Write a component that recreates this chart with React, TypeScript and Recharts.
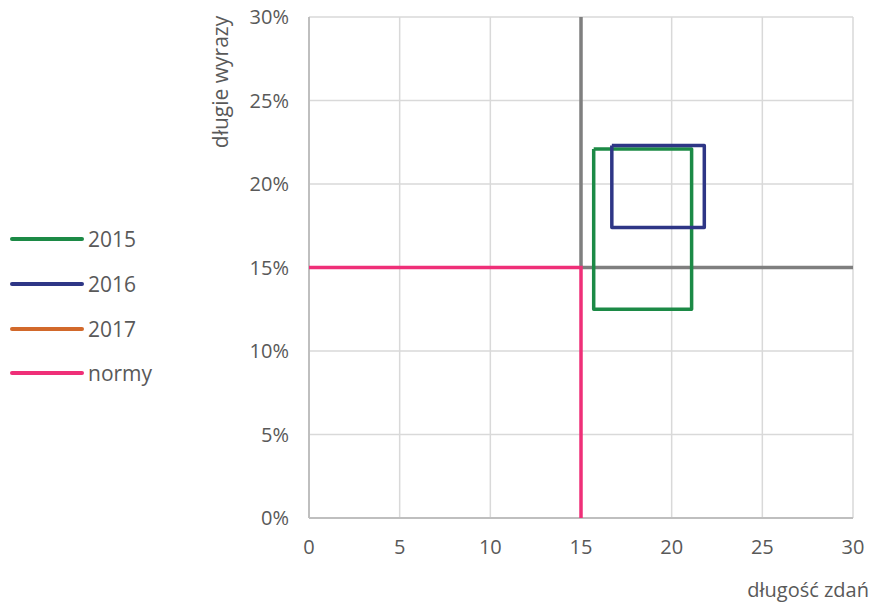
import { ScatterChart, Scatter, XAxis, YAxis, CartesianGrid, Label } from "recharts";

// axis ticks
const X_TICKS = [0, 5, 10, 15, 20, 25, 30];
const Y_TICKS = [0, 5, 10, 15, 20, 25, 30];

// series: closed outlines (x = długość zdań, y = długie wyrazy in %)
const data2015 = [
  { x: 15.7, y: 22.1 },
  { x: 21.1, y: 22.1 },
  { x: 21.1, y: 12.5 },
  { x: 15.7, y: 12.5 },
  { x: 15.7, y: 22.1 },
];
const data2016 = [
  { x: 16.7, y: 22.3 },
  { x: 21.8, y: 22.3 },
  { x: 21.8, y: 17.4 },
  { x: 16.7, y: 17.4 },
  { x: 16.7, y: 22.3 },
];
const data2017: { x: number; y: number }[] = [];
const dataNormy = [
  { x: 0, y: 15 },
  { x: 15, y: 15 },
  { x: 15, y: 0 },
];
const dataLimit = [
  { x: 15, y: 30 },
  { x: 15, y: 15 },
  { x: 30, y: 15 },
];

const LEGEND = [
  { name: "2015", color: "#1c8a46" },
  { name: "2016", color: "#2e3686" },
  { name: "2017", color: "#d2692b" },
  { name: "normy", color: "#ef2f78" },
];

const FONT = "'Open Sans', sans-serif";
const TEXT = "#595959";
const noDot = () => <g />;

export default function App() {
  return (
    <div style={{ position: "absolute", left: 0, top: 0, width: 871, height: 605, background: "#fff", fontFamily: FONT }}>
      <ScatterChart width={871} height={605} margin={{ top: 17, right: 18, bottom: 0, left: 0 }}>
        <CartesianGrid stroke="#d9d9d9" strokeWidth={1.5} />
        <XAxis
          type="number"
          dataKey="x"
          domain={[0, 30]}
          ticks={X_TICKS}
          height={87}
          tickSize={0}
          tickMargin={22}
          axisLine={{ stroke: "#bfbfbf", strokeWidth: 2 }}
          tick={{ fill: TEXT, fontSize: 20, fontFamily: FONT }}
        >
          <Label
            content={() => (
              <text x={869} y={597} textAnchor="end" fill={TEXT} fontSize={20} fontFamily={FONT}>
                długość zdań
              </text>
            )}
          />
        </XAxis>
        <YAxis
          type="number"
          dataKey="y"
          domain={[0, 30]}
          ticks={Y_TICKS}
          width={309}
          tickSize={0}
          tickMargin={20}
          tickFormatter={(v: number) => `${v}%`}
          axisLine={{ stroke: "#bfbfbf", strokeWidth: 2 }}
          tick={{ fill: TEXT, fontSize: 20, fontFamily: FONT }}
        >
          <Label
            content={() => (
              <text
                x={220}
                y={82}
                textAnchor="middle"
                dominantBaseline="central"
                transform="rotate(-90 220 82)"
                fill={TEXT}
                fontSize={21}
                fontFamily={FONT}
              >
                długie wyrazy
              </text>
            )}
          />
        </YAxis>
        <Scatter data={dataLimit} line={{ stroke: "#7f7f7f", strokeWidth: 3.5 }} shape={noDot} legendType="none" isAnimationActive={false} />
        <Scatter data={dataNormy} line={{ stroke: LEGEND[3].color, strokeWidth: 3.5 }} shape={noDot} isAnimationActive={false} />
        <Scatter data={data2017} line={{ stroke: LEGEND[2].color, strokeWidth: 3.5 }} shape={noDot} isAnimationActive={false} />
        <Scatter data={data2015} line={{ stroke: LEGEND[0].color, strokeWidth: 3.5, strokeLinejoin: "round" }} shape={noDot} isAnimationActive={false} />
        <Scatter data={data2016} line={{ stroke: LEGEND[1].color, strokeWidth: 3.5, strokeLinejoin: "round" }} shape={noDot} isAnimationActive={false} />
      </ScatterChart>
      <div style={{ position: "absolute", left: 10, top: 217 }}>
        {LEGEND.map((s) => (
          <div key={s.name} style={{ display: "flex", alignItems: "center", height: 44.7 }}>
            <svg width={74} height={6} style={{ marginRight: 4 }}>
              <line x1={2} y1={3} x2={72} y2={3} stroke={s.color} strokeWidth={4} strokeLinecap="round" />
            </svg>
            <span style={{ color: TEXT, fontSize: 21, lineHeight: "26px" }}>{s.name}</span>
          </div>
        ))}
      </div>
    </div>
  );
}
